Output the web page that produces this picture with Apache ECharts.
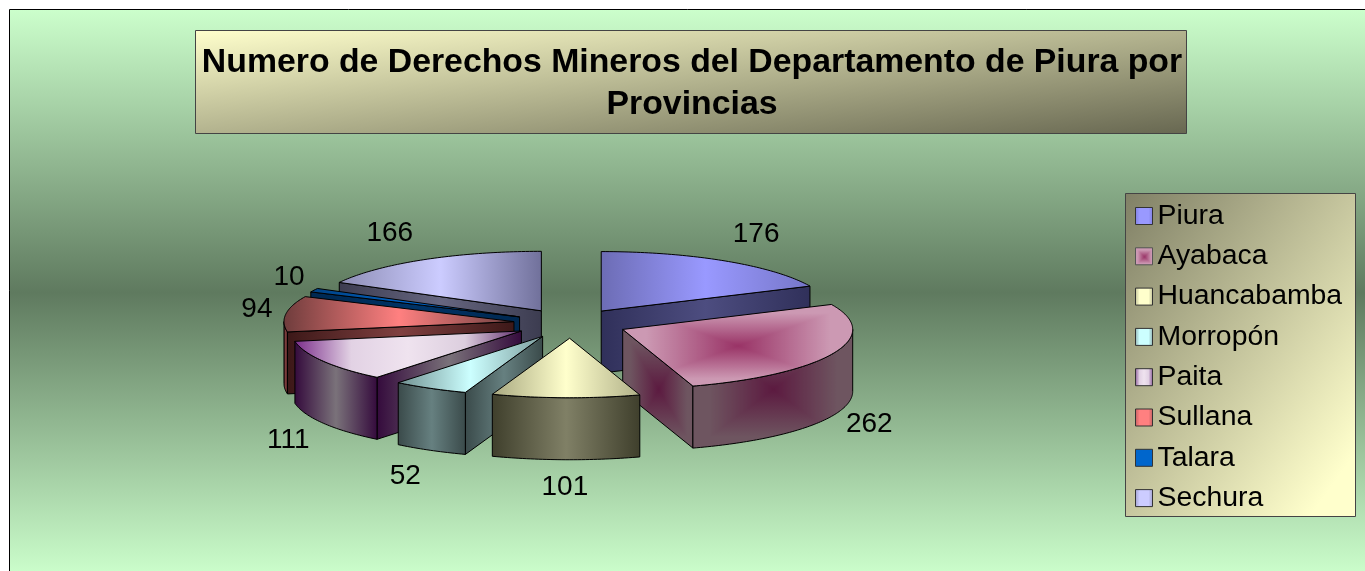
<!DOCTYPE html>
<html>
<head>
<meta charset="utf-8">
<title>Derechos Mineros Piura</title>
<script src="https://cdn.jsdelivr.net/npm/echarts@6/dist/echarts.min.js"></script>
<style>
  html, body { margin: 0; padding: 0; background: #fff; }
  #chart { width: 1365px; height: 571px; }
</style>
</head>
<body>
<div id="chart"></div>
<script>
// data
const provinces = ['Piura', 'Ayabaca', 'Huancabamba', 'Morropón', 'Paita', 'Sullana', 'Talara', 'Sechura']
const derechos = [176, 262, 101, 52, 111, 94, 10, 166]
const titleLines = ['Numero de Derechos Mineros del Departamento de Piura por', 'Provincias']

// pie geometry: the 3D look is a tilted ellipse with a wall below it
const pie = { cx: 570.5, cy: 323.5, rx: 230, ry: 59.5, depth: 62, explode: 57 }
const FONT = '"Liberation Sans", Arial, sans-serif'

// painter's order, back to front
const drawOrder = [0, 7, 6, 5, 4, 1, 3, 2]
// label nudge away from the rim, per slice
const labelNudge = [[31, -27], [36, 9], [-1, 28], [-25, 26], [-35, 17], [-29, -5], [-25, -13], [-34, -26]]

// colours of the horizontal shading, evenly spread left to right
const topShades = [
  ['#6c6cb4', '#9999ff', '#7676c8'],
  null,
  ['#a8a880', '#ffffcc', '#b0b088'],
  ['#6f8f8f', '#ccffff', '#7c9c9c'],
  ['#7a2c8a', '#e2d2e4', '#efe3ef', '#dccede', '#5e2a6a'],
  ['#6e3c3c', '#ff8080', '#6e4040'],
  ['#004080', '#0066cc', '#004080'],
  ['#8c8cb4', '#ccccff', '#70709a']
]
const wallShades = [
  ['#30305a', '#4d4d80', '#30305a'],
  null,
  ['#3f3f2c', '#808066', '#3f3f2c'],
  ['#3a4a4a', '#668080', '#3a4a4a'],
  ['#340a3c', '#7a727a', '#340a3c'],
  ['#3c1818', '#804040', '#3c1818'],
  ['#002850', '#003366', '#002850'],
  ['#3c3c50', '#666680', '#3c3c50']
]
const legendShades = [
  ['#8080e0', '#9999ff', '#9999ff', '#9999ff', '#8080e0'],
  null,
  ['#c0c098', '#ffffcc', '#ffffcc', '#ffffcc', '#c0c098'],
  ['#90b0b0', '#ccffff', '#ccffff', '#ccffff', '#90b0b0'],
  ['#8a5a98', '#e2d2e4', '#efe3ef', '#e2d2e4', '#8a5a98'],
  ['#c06060', '#ff8080', '#ff8080', '#ff8080', '#c06060'],
  ['#0066cc', '#0066cc', '#0066cc', '#0066cc', '#0066cc'],
  ['#a0a0cc', '#ccccff', '#ccccff', '#ccccff', '#a0a0cc']
]

const hexToRgb = (hex) => [1, 3, 5].map((i) => parseInt(hex.slice(i, i + 2), 16))

// rectangular "from centre" gradient that Excel uses on Ayabaca
const boxPattern = (x0, y0, x1, y1, inner, outer) => {
  const w = Math.max(1, Math.ceil(x1 - x0))
  const h = Math.max(1, Math.ceil(y1 - y0))
  const canvas = document.createElement('canvas')
  canvas.width = w
  canvas.height = h
  const ctx = canvas.getContext('2d')
  const img = ctx.createImageData(w, h)
  const a = hexToRgb(inner)
  const b = hexToRgb(outer)
  for (let y = 0; y < h; y++) {
    for (let x = 0; x < w; x++) {
      const t = Math.max(Math.abs(x / w - 0.5), Math.abs(y / h - 0.5)) * 2
      const k = Math.min(1, t * 1.25)
      const p = (y * w + x) * 4
      img.data[p] = a[0] + (b[0] - a[0]) * k
      img.data[p + 1] = a[1] + (b[1] - a[1]) * k
      img.data[p + 2] = a[2] + (b[2] - a[2]) * k
      img.data[p + 3] = 255
    }
  }
  ctx.putImageData(img, 0, 0)
  return { image: canvas, repeat: 'no-repeat', x: x0, y: y0 }
}

const hShade = (s) => new echarts.graphic.LinearGradient(0, 0, 1, 0,
  s.map((color, k) => ({ offset: k / (s.length - 1), color })))

// diagonal gradient scaled to the box, the way Office draws it
const boxDiagonal = (w, h, stops) => {
  const d = 1 / (w * w) + 1 / (h * h)
  return new echarts.graphic.LinearGradient(0, 0, (2 / w) / d / w, (2 / h) / d / h, stops)
}

const total = derechos.reduce((a, b) => a + b, 0)
const deg = (v) => (v / total) * 360
const startAngles = derechos.map((_, i) => derechos.slice(0, i).reduce((s, v) => s + deg(v), 0))

const ellipsePoint = (c, angle, dy) => {
  const r = (angle * Math.PI) / 180
  return [c[0] + pie.rx * Math.sin(r), c[1] - pie.ry * Math.cos(r) + (dy || 0)]
}

const arcPoints = (c, from, to, dy) => {
  const pts = []
  const n = Math.max(2, Math.ceil(Math.abs(to - from)))
  for (let k = 0; k <= n; k++) pts.push(ellipsePoint(c, from + ((to - from) * k) / n, dy))
  return pts
}

const bounds = (pts) => {
  const xs = pts.map((p) => p[0])
  const ys = pts.map((p) => p[1])
  return [Math.min(...xs), Math.min(...ys), Math.max(...xs), Math.max(...ys)]
}

const faceFill = (idx, pts, shades, inner, outer) => {
  if (shades[idx]) return hShade(shades[idx])
  const b = bounds(pts)
  return boxPattern(b[0], b[1], b[2], b[3], inner, outer)
}

const face = (idx, pts, shades, inner, outer) => ({
  type: 'polygon',
  shape: { points: pts },
  style: { fill: faceFill(idx, pts, shades, inner, outer), stroke: '#000', lineWidth: 1 }
})

const renderSlice = (params) => {
  const i = params.seriesIndex
  const a0 = startAngles[i]
  const a1 = a0 + deg(derechos[i])
  const mid = ((a0 + a1) / 2) * Math.PI / 180
  // the whole slice slides out along its own bisector
  const c = [pie.cx + pie.explode * Math.sin(mid), pie.cy - (pie.explode * pie.ry / pie.rx) * Math.cos(mid)]
  const d = pie.depth
  const children = []
  const wallIn = '#5c1a40'
  const wallOut = '#6e5560'

  const radial = (angle) => {
    const rim = ellipsePoint(c, angle)
    return [c, rim, [rim[0], rim[1] + d], [c[0], c[1] + d]]
  }
  if (Math.sin((a1 * Math.PI) / 180) > 0) children.push(face(i, radial(a1), wallShades, wallIn, wallOut))
  if (Math.sin((a0 * Math.PI) / 180) < 0) children.push(face(i, radial(a0), wallShades, wallIn, wallOut))

  const f0 = Math.max(a0, 90)
  const f1 = Math.min(a1, 270)
  if (f1 > f0) {
    const wall = arcPoints(c, f0, f1).concat(arcPoints(c, f1, f0, d))
    children.push(face(i, wall, wallShades, wallIn, wallOut))
  }

  const top = [c].concat(arcPoints(c, a0, a1))
  children.push(face(i, top, topShades, '#993366', '#cc99b3'))

  // value label
  const frontDrop = Math.cos(mid) < 0 ? d : 0
  const anchor = ellipsePoint(c, (mid * 180) / Math.PI, frontDrop)
  children.push({
    type: 'text',
    style: {
      text: String(derechos[i]),
      x: anchor[0] + labelNudge[i][0],
      y: anchor[1] + labelNudge[i][1],
      align: 'center',
      verticalAlign: 'middle',
      font: '28px ' + FONT,
      fill: '#000'
    }
  })
  return { type: 'group', children }
}

const chart = echarts.init(document.getElementById('chart'))

const legendIcon = (i) => {
  if (!legendShades[i]) {
    return { color: boxPattern(0, 0, 17, 17, '#993366', '#cc99b3'), borderColor: '#555', borderWidth: 1 }
  }
  return { color: hShade(legendShades[i]), borderColor: '#333', borderWidth: 1 }
}

const option = {
  animation: false,
  backgroundColor: '#fff',
  title: {
    text: titleLines.join('\n'),
    left: 692,
    top: 42,
    textAlign: 'center',
    padding: 0,
    textStyle: { fontFamily: FONT, fontSize: 33.8, fontWeight: 'bold', color: '#000', lineHeight: 42 }
  },
  legend: {
    left: 1135,
    top: 202,
    orient: 'vertical',
    align: 'left',
    padding: 0,
    itemWidth: 17,
    itemHeight: 17,
    itemGap: 12.3,
    icon: 'rect',
    selectedMode: false,
    textStyle: { fontFamily: FONT, fontSize: 28.4, color: '#000', lineHeight: 28 },
    data: provinces.map((name, i) => ({ name, itemStyle: legendIcon(i) }))
  },
  graphic: [
    {
      type: 'rect',
      z: 0,
      shape: { x: 9.5, y: 9.5, width: 1365, height: 566 },
      style: {
        fill: new echarts.graphic.LinearGradient(0, 0, 0, 1, [
          { offset: 0, color: '#ccffcc' },
          { offset: 0.5, color: '#5f7a5f' },
          { offset: 1, color: '#ccffcc' }
        ]),
        stroke: '#000',
        lineWidth: 1
      }
    },
    {
      type: 'rect',
      z: 1,
      shape: { x: 195.5, y: 30.5, width: 991, height: 103 },
      style: {
        fill: boxDiagonal(991, 103, [{ offset: 0, color: '#ffffcc' }, { offset: 1, color: '#666650' }]),
        stroke: '#444',
        lineWidth: 1
      }
    },
    {
      type: 'rect',
      z: 1,
      shape: { x: 1125.5, y: 193.5, width: 230, height: 323 },
      style: {
        fill: boxDiagonal(230, 323, [{ offset: 0, color: '#808066' }, { offset: 0.9, color: '#ffffcc' }, { offset: 1, color: '#ffffcc' }]),
        stroke: '#444',
        lineWidth: 1
      }
    }
  ],
  series: provinces.map((name, i) => ({
    type: 'custom',
    name,
    coordinateSystem: 'none',
    z: 2 + drawOrder.indexOf(i),
    silent: true,
    renderItem: renderSlice,
    data: [derechos[i]]
  }))
}

chart.setOption(option)
</script>
</body>
</html>
